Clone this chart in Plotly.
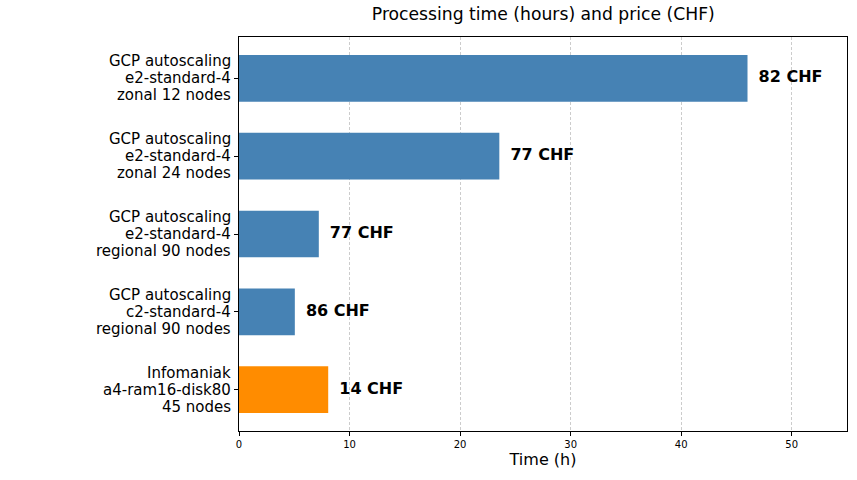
import plotly.graph_objects as go

categories = [
    "GCP autoscaling<br>e2-standard-4<br>zonal 12 nodes",
    "GCP autoscaling<br>e2-standard-4<br>zonal 24 nodes",
    "GCP autoscaling<br>e2-standard-4<br>regional 90 nodes",
    "GCP autoscaling<br>c2-standard-4<br>regional 90 nodes",
    "Infomaniak<br>a4-ram16-disk80<br>45 nodes",
]
hours = [46.0, 23.55, 7.22, 5.05, 8.07]
prices = [82, 77, 77, 86, 14]
colors = ["#4682B4", "#4682B4", "#4682B4", "#4682B4", "#FF8C00"]

pos = list(range(len(categories)))
font = "DejaVu Sans"

fig = go.Figure()
fig.add_trace(go.Bar(
    x=hours, y=pos, orientation="h", width=0.6,
    marker=dict(color=colors, line=dict(width=0)),
    showlegend=False, hoverinfo="skip",
))
fig.add_trace(go.Scatter(
    x=[h + 1.0 for h in hours], y=pos, mode="text",
    text=[f"<b>{p} CHF</b>" for p in prices],
    textposition="middle right",
    textfont=dict(family=font, size=16, color="black"),
    showlegend=False, hoverinfo="skip",
))

# Multi-line category labels with tighter line spacing
line_h = 17
for p, cat in zip(pos, categories):
    lines = cat.split("<br>")
    n = len(lines)
    for i, ln in enumerate(lines):
        fig.add_annotation(
            xref="paper", x=0, y=p, yref="y", text=ln, showarrow=False,
            xanchor="right", yanchor="middle", xshift=-6,
            yshift=((n - 1) / 2 - i) * line_h,
            font=dict(family=font, size=15, color="black"),
        )

fig.update_layout(
    width=857, height=480,
    margin=dict(l=239, r=10, t=37, b=49),
    paper_bgcolor="white", plot_bgcolor="white",
    font=dict(family=font, color="black"),
    title=dict(text="Processing time (hours) and price (CHF)", x=0.634, xanchor="center",
               y=0.97, yanchor="middle", font=dict(family=font, size=17.2)),
)
fig.update_xaxes(
    range=[0, 55], tickvals=[0, 10, 20, 30, 40, 50],
    tickfont=dict(size=10), ticks="outside", ticklen=4, tickcolor="black",
    showgrid=True, gridcolor="#cccccc", griddash="3px,2px", gridwidth=1,
    showline=True, linecolor="black", linewidth=1, mirror=True, zeroline=False,
    title=dict(text="Time (h)", font=dict(size=16), standoff=3),
)
fig.update_yaxes(
    range=[4.53, -0.53], tickvals=pos, ticktext=[""] * len(pos),
    ticks="outside", ticklen=4, tickcolor="black",
    showgrid=False, showline=True, linecolor="black", linewidth=1, mirror=True,
    zeroline=False,
)

fig.write_html("out.html")
